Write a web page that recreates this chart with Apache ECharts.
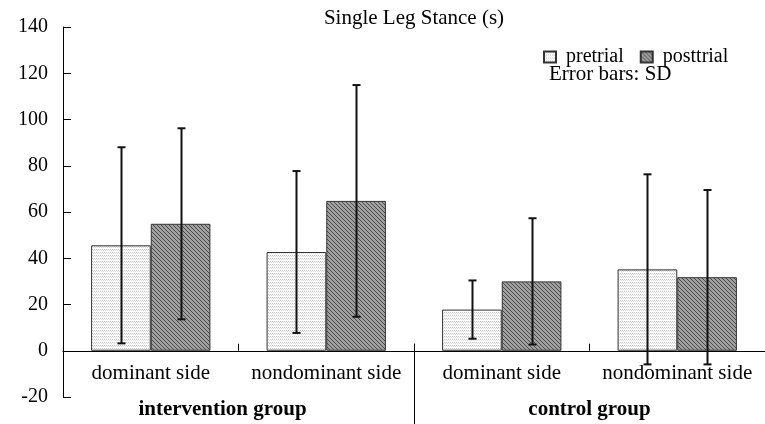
<!DOCTYPE html>
<html>
<head>
<meta charset="utf-8">
<script src="https://cdn.jsdelivr.net/npm/echarts@6/dist/echarts.min.js"></script>
<style>
  html, body { margin: 0; padding: 0; background: #fff; }
  #chart { width: 765px; height: 424px; }
</style>
</head>
<body>
<div id="chart"></div>
<script>
const categories = ["dominant side", "nondominant side", "dominant side", "nondominant side"]
const groups = ["intervention group", "control group"]
const seriesNames = ["pretrial", "posttrial"]
const pretrialMean = [45.6, 42.7, 17.8, 35.2]
const pretrialSd = [42.4, 35.0, 12.6, 41.1]
const posttrialMean = [54.9, 64.8, 30.0, 31.8]
const posttrialSd = [41.3, 50.1, 27.3, 37.7]
const yMin = -20
const yMax = 140
const yStep = 20

const serif = "Liberation Serif"
const barFrac = 0.34
const gridTop = 27
const gridBottom = 27
const chartHeight = 424

// small canvas tiles used as bar fills
function dotTile() {
  const c = document.createElement("canvas")
  c.width = 4
  c.height = 3
  const ctx = c.getContext("2d")
  ctx.fillStyle = "#ffffff"
  ctx.fillRect(0, 0, 4, 3)
  ctx.fillStyle = "#c4c4c4"
  ctx.fillRect(0, 0, 1, 1)
  ctx.fillRect(2, 0, 1, 1)
  ctx.fillStyle = "#dddddd"
  ctx.fillRect(1, 1, 1, 1)
  ctx.fillRect(3, 1, 1, 1)
  return c
}

function hatchTile() {
  const n = 4
  const c = document.createElement("canvas")
  c.width = n
  c.height = n
  const ctx = c.getContext("2d")
  ctx.fillStyle = "#a0a0a0"
  ctx.fillRect(0, 0, n, n)
  ctx.fillStyle = "#4a4a4a"
  for (let i = 0; i < n; i++) ctx.fillRect(i, i, 1, 1)
  return c
}

function errorSeries(name, means, sds, shift) {
  return {
    type: "custom",
    name: name + " SD",
    silent: true,
    z: 10,
    data: means.map((m, i) => [i, m - sds[i], m + sds[i]]),
    encode: { x: 0, y: [1, 2] },
    renderItem(params, api) {
      const low = api.coord([api.value(0), api.value(1)])
      const high = api.coord([api.value(0), api.value(2)])
      const bw = api.size([1, 0])[0]
      const x = Math.round(low[0] + shift * bw) + 0.5
      const cap = 4
      const style = { stroke: "#111", lineWidth: 2 }
      return {
        type: "group",
        children: [
          { type: "line", shape: { x1: x, y1: low[1], x2: x, y2: high[1] }, style },
          { type: "line", shape: { x1: x - cap, y1: high[1], x2: x + cap, y2: high[1] }, style },
          { type: "line", shape: { x1: x - cap, y1: low[1], x2: x + cap, y2: low[1] }, style }
        ]
      }
    }
  }
}

// the category axis sits on the zero line, lifted up from the grid bottom
const plotHeight = chartHeight - gridTop - gridBottom
const zeroLift = plotHeight * (0 - yMin) / (yMax - yMin)

const chart = echarts.init(document.getElementById("chart"), null, { renderer: "canvas" })

chart.setOption({
  animation: false,
  backgroundColor: "#fff",
  textStyle: { fontFamily: serif, color: "#000" },
  grid: { left: 63, right: 0, top: gridTop, bottom: gridBottom },
  legend: {
    data: seriesNames,
    left: 538,
    top: 42,
    icon: "rect",
    itemWidth: 12,
    itemHeight: 11,
    itemGap: 16,
    textStyle: { fontFamily: serif, fontSize: 20, color: "#000", padding: [0, 0, 0, 5] }
  },
  xAxis: {
    type: "category",
    data: categories,
    axisLine: { onZero: false, lineStyle: { color: "#000", width: 1 } },
    offset: -zeroLift,
    axisTick: { show: true, inside: true, length: 7, lineStyle: { color: "#000", width: 1 } },
    axisLabel: { fontFamily: serif, fontSize: 21, color: "#000", margin: 12, interval: 0 }
  },
  yAxis: {
    type: "value",
    min: yMin,
    max: yMax,
    interval: yStep,
    axisLine: { show: true, lineStyle: { color: "#000", width: 1 } },
    axisTick: { show: true, inside: true, length: 8, lineStyle: { color: "#000" } },
    axisLabel: { fontFamily: serif, fontSize: 20, color: "#000", margin: 15 },
    splitLine: { show: false }
  },
  series: [
    {
      type: "bar",
      name: seriesNames[0],
      data: pretrialMean,
      barWidth: barFrac * 100 + "%",
      barGap: "0%",
      itemStyle: { color: { image: dotTile(), repeat: "repeat" }, borderColor: "#333", borderWidth: 1 }
    },
    {
      type: "bar",
      name: seriesNames[1],
      data: posttrialMean,
      barWidth: barFrac * 100 + "%",
      barGap: "0%",
      itemStyle: { color: { image: hatchTile(), repeat: "repeat" }, borderColor: "#333", borderWidth: 1 }
    },
    errorSeries(seriesNames[0], pretrialMean, pretrialSd, -barFrac / 2),
    errorSeries(seriesNames[1], posttrialMean, posttrialSd, barFrac / 2)
  ]
})

// decorations placed from the axis scales
const zeroY = chart.convertToPixel({ gridIndex: 0 }, [0, 0])[1]
const px = (i) => chart.convertToPixel({ xAxisIndex: 0 }, i)
const mid = (px(1) + px(2)) / 2
const step = px(1) - px(0)
const gridLeft = px(0) - step / 2
const gridRight = px(3) + step / 2

chart.setOption({
  graphic: [
    {
      type: "text", x: (gridLeft + gridRight) / 2, y: 18,
      style: { text: "Single Leg Stance (s)", font: "21px " + serif, fill: "#000", align: "center", verticalAlign: "middle" }
    },
    {
      type: "text", x: 549, y: 74,
      style: { text: "Error bars: SD", font: "21px " + serif, fill: "#000", align: "left", verticalAlign: "middle" }
    },
    {
      type: "line", shape: { x1: Math.round(mid) + 0.5, y1: zeroY - 7, x2: Math.round(mid) + 0.5, y2: chartHeight },
      style: { stroke: "#000", lineWidth: 1 }
    },
    {
      type: "text", x: (gridLeft + mid) / 2 - 16, y: 410,
      style: { text: groups[0], font: "bold 21px " + serif, fill: "#000", align: "center", verticalAlign: "middle" }
    },
    {
      type: "text", x: (mid + gridRight) / 2, y: 410,
      style: { text: groups[1], font: "bold 21px " + serif, fill: "#000", align: "center", verticalAlign: "middle" }
    }
  ]
})
</script>
</body>
</html>
